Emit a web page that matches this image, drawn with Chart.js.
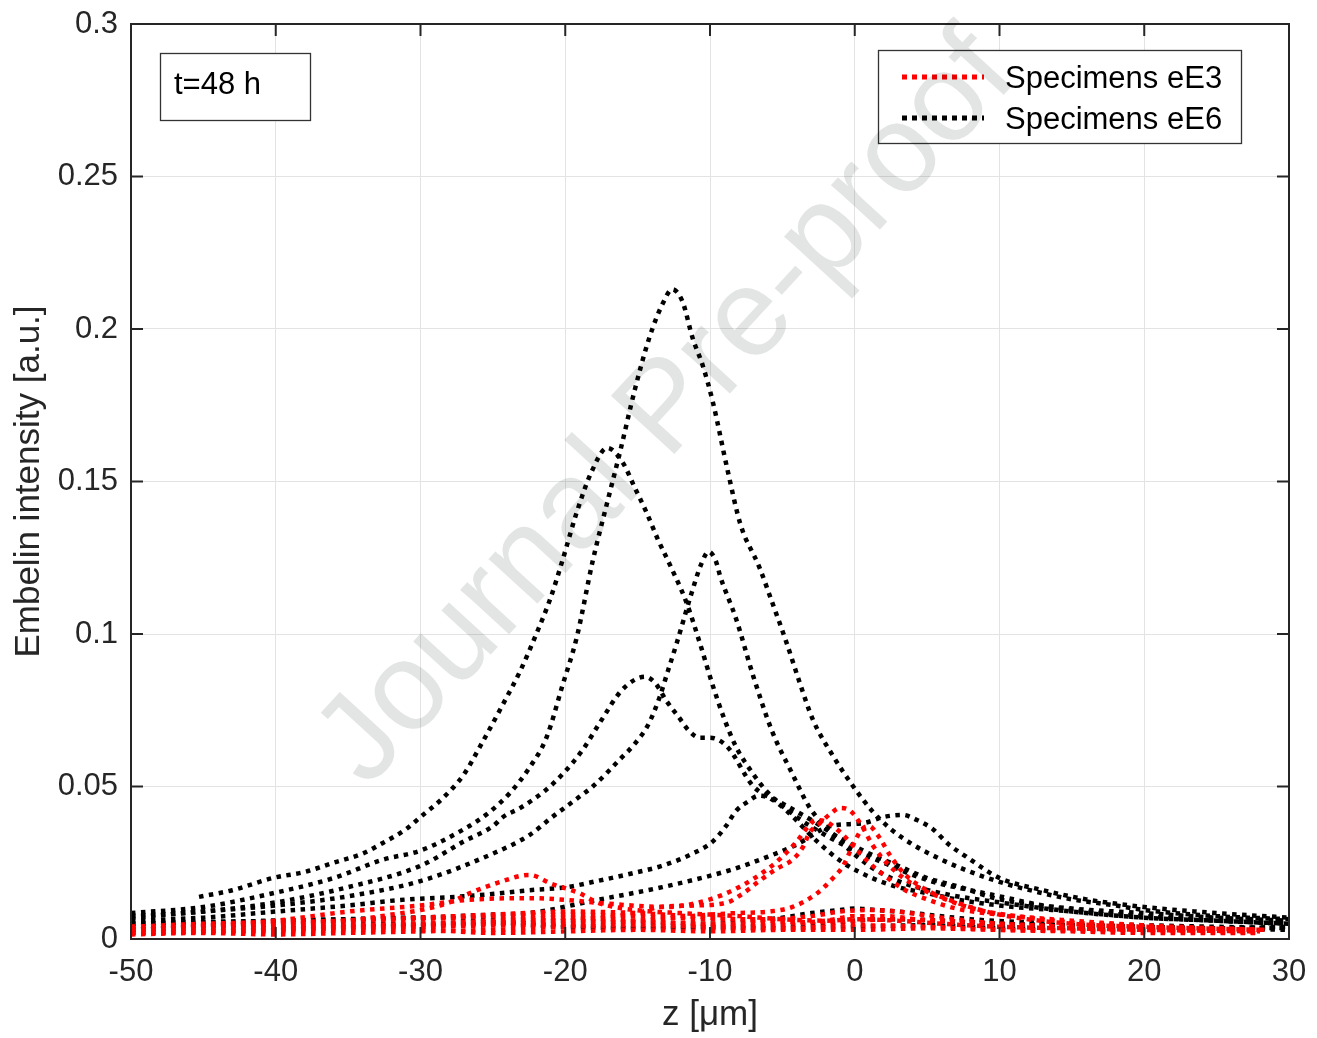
<!DOCTYPE html>
<html><head><meta charset="utf-8">
<script src="https://cdn.jsdelivr.net/npm/chart.js@4.4.1/dist/chart.umd.min.js"></script>
<style>html,body{margin:0;padding:0;background:#fff;}#wrap{width:1317px;height:1038px;position:relative;}</style>
</head><body><div id="wrap"><canvas id="c" width="1317" height="1038"></canvas></div>
<script>
// ---- tick labels ----
const xTicks = [-50,-40,-30,-20,-10,0,10,20,30];
const yTicks = [0,0.05,0.1,0.15,0.2,0.25,0.3];
const yTickLabels = ['0','0.05','0.1','0.15','0.2','0.25','0.3'];
const legendLabels = ['Specimens eE3','Specimens eE6'];
const annotationText = 't=48 h';

// ---- Specimens eE6 (black) ----
const zA = [-50,-45,-40.2,-36,-32.6,-30,-27,-25.4,-23.8,-22.5,-21.3,-20.2,-19.2,-18.1,-17,-16.2,-15.2,-14.2,-13.3,-12.6,-11.9,-11.2,-10.5,-9.8,-8.8,-7.9,-6.6,-5.6,-4.7,-3.8,-2.9,-1.5,-0.1,1.2,2.5,4,6,8,10.5,13,15,18,20,25,30];
const yA = [0.0085,0.0105,0.015,0.020,0.026,0.029,0.036,0.041,0.048,0.056,0.066,0.083,0.099,0.124,0.145,0.160,0.180,0.197,0.208,0.213,0.209,0.197,0.188,0.176,0.154,0.136,0.122,0.109,0.097,0.084,0.072,0.060,0.050,0.042,0.036,0.031,0.026,0.022,0.018,0.015,0.013,0.011,0.0095,0.0075,0.0065];
const zB = [-45.3,-43,-40.2,-38,-36,-34,-32.6,-31,-30,-28.5,-27,-25.9,-24.3,-23.1,-22,-21,-20.2,-19.2,-18.2,-17.1,-16,-15.2,-14.4,-13.6,-12.8,-11.6,-10.7,-9.8,-9,-8.2,-7,-6,-4,-2,0,2,4,6,8,10,13,16,20,25,30];
const yB = [0.0138,0.016,0.020,0.022,0.025,0.028,0.0315,0.036,0.040,0.046,0.054,0.063,0.077,0.088,0.100,0.112,0.124,0.140,0.153,0.161,0.156,0.148,0.140,0.131,0.123,0.110,0.097,0.083,0.072,0.063,0.054,0.048,0.040,0.034,0.029,0.025,0.021,0.018,0.016,0.014,0.011,0.009,0.0075,0.006,0.005];
const zC = [-50,-45,-40,-35,-30,-25,-22.5,-20.9,-19.2,-18.1,-16.2,-15.2,-14.3,-13.5,-12.9,-12.3,-11.3,-10.6,-10.1,-9.6,-9.3,-8.2,-7,-5.7,-4.4,-3.1,-1,1,3,6,10,15,20,25,30];
const yC = [0.007,0.009,0.011,0.014,0.019,0.028,0.034,0.040,0.046,0.050,0.059,0.064,0.070,0.079,0.088,0.097,0.113,0.123,0.127,0.124,0.119,0.105,0.086,0.068,0.055,0.043,0.032,0.024,0.019,0.015,0.012,0.009,0.007,0.006,0.005];
const zD = [-50,-45,-40,-35,-30,-27,-25,-24.3,-23.1,-21.3,-20.2,-18.8,-17.6,-16.2,-15.2,-14.5,-13.8,-13,-12.2,-11.4,-10.7,-10,-8.8,-7,-5.2,-3,-1,1,3,5,7.3,10,15,20,25,30];
const yD = [0.0075,0.009,0.012,0.017,0.024,0.032,0.037,0.040,0.043,0.049,0.054,0.062,0.071,0.081,0.085,0.086,0.084,0.078,0.073,0.068,0.066,0.066,0.063,0.050,0.045,0.039,0.033,0.028,0.024,0.020,0.017,0.013,0.010,0.0085,0.007,0.006];
const zE = [-50,-45,-40,-35,-31.4,-27,-24.5,-22.5,-19.9,-17.8,-15.3,-13.3,-11.2,-9.8,-8.9,-8.2,-7.4,-6.6,-5.8,-4.7,-2.6,-0.8,1.2,3,5,7,10,15,20,25,30];
const yE = [0.006,0.007,0.009,0.011,0.0128,0.014,0.015,0.016,0.017,0.019,0.0216,0.024,0.028,0.032,0.037,0.042,0.045,0.047,0.046,0.042,0.032,0.025,0.020,0.017,0.015,0.013,0.011,0.009,0.007,0.006,0.005];
const zF = [-50,-40,-30,-25,-22.5,-17.8,-13.3,-8.6,-6,-4,-1.7,0.6,2,3.3,4.3,5.4,6.5,7.7,10,13,16,20,25,30];
const yF = [0.005,0.006,0.007,0.008,0.0085,0.0128,0.017,0.0226,0.027,0.031,0.037,0.038,0.040,0.0407,0.039,0.036,0.031,0.027,0.020,0.016,0.013,0.0105,0.0085,0.007];
const zG = [-50,-45,-40,-35,-30,-25,-20,-15,-10,-7,-5,-3,-1,0,1.5,3,5,8,12,16,20,25,30];
const yG = [0.005,0.0055,0.006,0.0065,0.007,0.0065,0.006,0.0055,0.005,0.006,0.007,0.0085,0.0095,0.010,0.0095,0.009,0.008,0.0065,0.0055,0.005,0.0045,0.004,0.0035];
const zH = [-50,-45,-40,-35,-30,-25,-20,-15,-10,-5,-2,0,3,6,10,15,20,25,30];
const yH = [0.004,0.0045,0.0045,0.005,0.005,0.0055,0.0045,0.004,0.004,0.0045,0.005,0.006,0.0065,0.006,0.005,0.0045,0.004,0.0035,0.003];
const zI = [-50,-45,-40,-35,-30,-25,-20,-15,-10,-5,0,5,10,15,20,25,30];
const yI = [0.003,0.0035,0.0035,0.004,0.0045,0.005,0.004,0.0035,0.0035,0.0035,0.004,0.0045,0.0035,0.003,0.003,0.0035,0.004];

// ---- Specimens eE3 (red) ----
const zR1 = [-50,-45,-40,-35,-30,-25,-20,-15,-13.5,-11,-8.8,-7.7,-6.6,-5.4,-4.3,-3.6,-3.1,-2.4,-1.7,-1,-0.3,0.5,1.2,2.4,4,6.4,8.6,12,16,20,24,28.5];
const yR1 = [0.002,0.0025,0.003,0.0035,0.004,0.005,0.006,0.0085,0.0105,0.011,0.012,0.015,0.019,0.023,0.026,0.030,0.035,0.038,0.041,0.043,0.042,0.037,0.031,0.024,0.018,0.0128,0.0095,0.007,0.005,0.004,0.0035,0.003];
const zR2 = [-50,-40,-35,-30,-26.8,-22.2,-19.9,-17.6,-13,-10,-8,-6,-5,-4,-3.2,-2.7,-2,-1,0,1,2,3.5,5,7,10,15,20,28];
const yR2 = [0.003,0.006,0.009,0.011,0.0128,0.0134,0.0128,0.0118,0.0105,0.013,0.017,0.023,0.027,0.032,0.037,0.039,0.0385,0.035,0.030,0.025,0.021,0.016,0.013,0.010,0.008,0.006,0.0045,0.003];
const zR3 = [-50,-40,-30,-20,-15,-10,-8.2,-5.9,-4.3,-2.6,-1.5,-0.8,-0.1,0.5,1,1.6,2.5,3.5,5,7,10,15,20,28];
const yR3 = [0.002,0.003,0.004,0.005,0.006,0.008,0.0085,0.009,0.0105,0.015,0.020,0.024,0.031,0.036,0.037,0.034,0.027,0.021,0.016,0.012,0.008,0.005,0.004,0.003];
const zR4 = [-50,-45,-40,-35,-32,-30,-28,-26.4,-24.5,-22.5,-20.9,-19,-17.8,-16,-14,-12,-10,-8,-5,-2,0,3,6,10,15,20,28];
const yR4 = [0.003,0.004,0.005,0.006,0.008,0.0095,0.012,0.0154,0.0187,0.021,0.018,0.015,0.012,0.010,0.009,0.0085,0.008,0.0075,0.0065,0.006,0.0065,0.006,0.005,0.004,0.0035,0.003,0.0025];
const zR5 = [-50,-45,-40,-35,-30,-25,-20,-15,-10,-6,-3,-1,1,3,6,10,15,20,28];
const yR5 = [0.004,0.005,0.0055,0.006,0.0065,0.0075,0.008,0.0075,0.0065,0.0065,0.0075,0.009,0.0095,0.009,0.007,0.005,0.004,0.0035,0.003];
const zR6 = [-50,-45,-40,-35,-30,-25,-20,-15,-10,-5,0,5,10,15,20,28];
const yR6 = [0.0015,0.002,0.0015,0.002,0.0025,0.003,0.004,0.0045,0.004,0.0035,0.0045,0.004,0.003,0.0025,0.002,0.002];
const zR7 = [-50,-45,-40,-35,-30,-25,-20,-15,-10,-5,-2,0,2,5,10,15,20,28];
const yR7 = [0.003,0.0035,0.004,0.0045,0.005,0.006,0.007,0.006,0.005,0.005,0.006,0.0075,0.0075,0.006,0.0045,0.0035,0.003,0.0025];
const zR8 = [-50,-40,-30,-25,-20,-15,-10,-5,0,5,10,20,28];
const yR8 = [0.002,0.0025,0.003,0.002,0.0025,0.003,0.0025,0.003,0.003,0.0035,0.003,0.0025,0.002];
const zR9 = [-50,-40,-35,-30,-25,-20,-15,-10,-6,-3,0,3,6,10,15,20,28];
const yR9 = [0.004,0.005,0.006,0.007,0.008,0.009,0.0085,0.007,0.006,0.0055,0.006,0.0065,0.006,0.005,0.004,0.0035,0.003];

const RED = '#ff0000', BLACK = '#000000';
const TXT = '#262626';
const FONT = '"Liberation Sans", Arial, Helvetica, sans-serif';

function series(z, y, color) {
  return {
    data: z.map((v, i) => ({x: v, y: y[i]})),
    borderColor: color, backgroundColor: color, fill: false,
    pointRadius: 0, borderWidth: 4.5, borderDash: [4.5, 5.5],
    cubicInterpolationMode: 'monotone', borderCapStyle: 'butt'
  };
}
const redSets = [[zR1,yR1],[zR2,yR2],[zR3,yR3],[zR4,yR4],[zR5,yR5],[zR6,yR6],[zR7,yR7],[zR8,yR8],[zR9,yR9]].map(p => series(p[0], p[1], RED));
const blackSets = [[zA,yA],[zB,yB],[zC,yC],[zD,yD],[zE,yE],[zF,yF],[zG,yG],[zH,yH],[zI,yI]].map(p => series(p[0], p[1], BLACK));

function zeroPad(s) { s.paddingTop = 0; s.paddingBottom = 0; s.paddingLeft = 0; s.paddingRight = 0; }

const frame = {
  id: 'frame',
  afterDatasetsDraw(chart) {
    const {ctx, chartArea: a, scales: {x, y}} = chart;
    ctx.save();
    ctx.strokeStyle = TXT;
    ctx.lineWidth = 2;
    ctx.strokeRect(a.left, a.top, a.right - a.left, a.bottom - a.top);
    ctx.beginPath();
    xTicks.forEach(v => {
      const p = x.getPixelForValue(v);
      ctx.moveTo(p, a.bottom); ctx.lineTo(p, a.bottom - 12);
      ctx.moveTo(p, a.top); ctx.lineTo(p, a.top + 12);
    });
    yTicks.forEach(v => {
      const p = y.getPixelForValue(v);
      ctx.moveTo(a.left, p); ctx.lineTo(a.left + 12, p);
      ctx.moveTo(a.right, p); ctx.lineTo(a.right - 12, p);
    });
    ctx.stroke();

    // annotation box
    ctx.fillStyle = '#fff';
    ctx.fillRect(160, 53, 150, 67);
    ctx.lineWidth = 1.3;
    ctx.strokeStyle = '#333';
    ctx.strokeRect(160.5, 53.5, 150, 67);
    ctx.fillStyle = '#000';
    ctx.font = '31px ' + FONT;
    ctx.textAlign = 'left';
    ctx.textBaseline = 'alphabetic';
    ctx.fillText(annotationText, 174, 94);

    // legend
    ctx.fillStyle = '#fff';
    ctx.fillRect(878, 50, 363, 93);
    ctx.strokeStyle = '#333';
    ctx.strokeRect(878.5, 50.5, 363, 93);
    const rows = [[RED, 77, 88], [BLACK, 118, 129]];
    rows.forEach((r, i) => {
      ctx.save();
      ctx.strokeStyle = r[0];
      ctx.lineWidth = 5;
      ctx.setLineDash([5, 5]);
      ctx.beginPath();
      ctx.moveTo(902, r[1]); ctx.lineTo(984, r[1]);
      ctx.stroke();
      ctx.restore();
      ctx.fillStyle = '#000';
      ctx.fillText(legendLabels[i], 1005, r[2]);
    });
    ctx.restore();
  },
  afterDraw(chart) {
    // watermark overlay (multiplied so marks beneath stay visible)
    const ctx = chart.ctx;
    ctx.save();
    ctx.globalCompositeOperation = 'multiply';
    ctx.translate(668, 410);
    ctx.rotate(-47.5 * Math.PI / 180);
    ctx.font = '125px ' + FONT;
    ctx.fillStyle = '#e3e5e5';
    ctx.textAlign = 'center';
    ctx.textBaseline = 'middle';
    ctx.fillText('Journal Pre-proof', 0, 0);
    ctx.restore();
  }
};

new Chart(document.getElementById('c'), {
  type: 'line',
  data: {datasets: [...redSets, ...blackSets]},
  options: {
    responsive: false, animation: false, devicePixelRatio: 1,
    layout: {padding: {left: 0, top: 24, right: 28, bottom: 0}},
    plugins: {legend: {display: false}, tooltip: {enabled: false}},
    scales: {
      x: {
        type: 'linear', min: -50, max: 30,
        afterBuildTicks: s => { s.ticks = xTicks.map(v => ({value: v})); },
        afterFit: s => { s.height = 99; zeroPad(s); },
        grid: {color: '#e3e3e3', lineWidth: 1, drawTicks: false},
        border: {display: false},
        ticks: {color: TXT, font: {family: FONT, size: 31}, padding: 15, maxRotation: 0, autoSkip: false,
                callback: v => String(v)},
        title: {display: true, text: 'z [μm]', color: TXT, font: {family: FONT, size: 35}, padding: {top: 0, bottom: 2}}
      },
      y: {
        type: 'linear', min: 0, max: 0.3,
        afterBuildTicks: s => { s.ticks = yTicks.map(v => ({value: v})); },
        afterFit: s => { s.width = 131; zeroPad(s); },
        grid: {color: '#e3e3e3', lineWidth: 1, drawTicks: false},
        border: {display: false},
        ticks: {color: TXT, font: {family: FONT, size: 31}, padding: 13, autoSkip: false,
                callback: v => { const i = yTicks.findIndex(t => Math.abs(t - v) < 1e-9); return i >= 0 ? yTickLabels[i] : ''; }},
        title: {display: true, text: 'Embelin intensity [a.u.]', color: TXT, font: {family: FONT, size: 35}, padding: {top: 8, bottom: 0}}
      }
    }
  },
  plugins: [frame]
});
</script></body></html>
